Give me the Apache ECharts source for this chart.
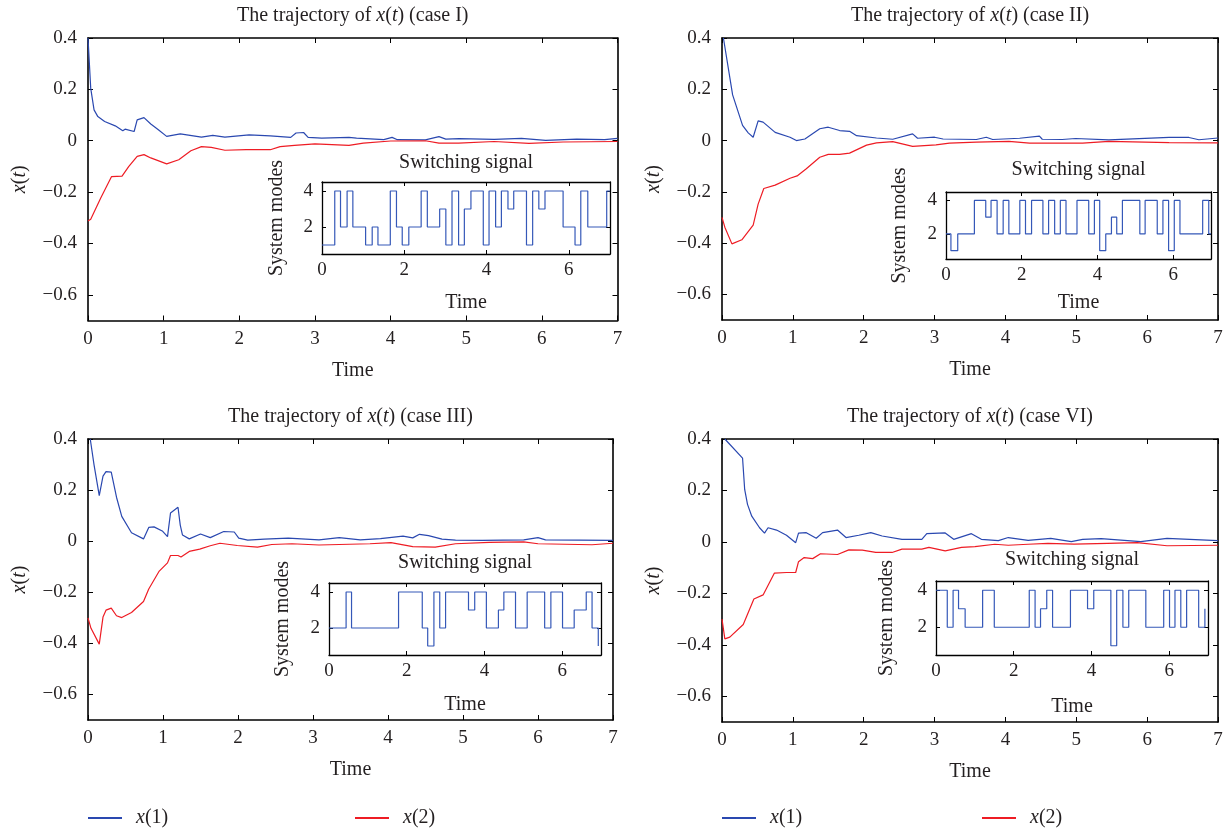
<!DOCTYPE html>
<html><head><meta charset="utf-8">
<script src="https://cdn.jsdelivr.net/npm/echarts@6/dist/echarts.min.js"></script>
<style>html,body{margin:0;padding:0;background:#fff}#c{width:1232px;height:834px}</style>
</head><body><div id="c"></div>
<script>
// ---------- DATA ----------
const caseNames = ['I', 'II', 'III', 'VI'];
const xTicks = [0, 1, 2, 3, 4, 5, 6, 7];
const yTicks = [-0.6, -0.4, -0.2, 0, 0.2, 0.4];
const insetXTicks = [0, 2, 4, 6];
const insetYTicks = [2, 4];

// case I
const c1x1T = [0,0.036,0.08,0.13,0.22,0.36,0.46,0.49,0.61,0.65,0.74,0.83,0.93,1.04,1.22,1.5,1.65,1.81,2.13,2.41,2.68,2.75,2.85,2.91,3.09,3.45,3.55,3.91,4.02,4.09,4.46,4.64,4.73,4.91,5.37,5.73,6.05,6.46,6.83,7];
const c1x1V = [0.40,0.204,0.12,0.094,0.075,0.058,0.039,0.045,0.036,0.081,0.09,0.065,0.043,0.017,0.027,0.014,0.021,0.014,0.023,0.019,0.013,0.03,0.032,0.013,0.010,0.013,0.010,0.004,0.013,0.004,0.003,0.016,0.006,0.008,0.005,0.009,0.001,0.006,0.004,0.009];
const c1x2T = [0,0.036,0.17,0.31,0.45,0.54,0.65,0.74,0.83,1.04,1.2,1.36,1.5,1.63,1.81,2.09,2.41,2.54,2.73,3.0,3.45,3.64,4.0,4.46,4.64,4.9,5.37,5.83,6.28,7];
const c1x2V = [-0.313,-0.306,-0.222,-0.14,-0.138,-0.1,-0.061,-0.054,-0.067,-0.09,-0.074,-0.039,-0.023,-0.026,-0.037,-0.035,-0.035,-0.023,-0.018,-0.012,-0.018,-0.009,-0.001,0,-0.009,-0.009,-0.003,-0.01,-0.005,-0.003];
const c1SwT = [0,0.31,0.45,0.61,0.75,1.06,1.22,1.36,1.66,1.81,1.95,2.11,2.41,2.56,2.86,3.01,3.16,3.32,3.46,3.62,3.92,4.06,4.22,4.36,4.52,4.66,4.97,5.12,5.27,5.42,5.86,6.15,6.29,6.46,6.92,7];
const c1SwM = [1,4,2,4,2,1,2,1,4,2,1,2,4,2,3,1,4,1,3,4,1,4,2,4,3,4,1,4,3,4,2,1,4,2,4,4];

// case II
const c2x1T = [0.02,0.15,0.29,0.37,0.44,0.51,0.58,0.75,0.96,1.05,1.17,1.38,1.5,1.66,1.8,1.9,2.18,2.41,2.69,2.76,3.0,3.12,3.59,3.73,3.82,4.2,4.48,4.52,4.8,4.99,5.46,6.31,6.59,6.73,7];
const c2x1V = [0.40,0.178,0.059,0.03,0.013,0.077,0.072,0.032,0.013,0.0,0.006,0.046,0.052,0.039,0.036,0.019,0.01,0.005,0.026,0.009,0.013,0.006,0.004,0.013,0.004,0.009,0.017,0.005,0.004,0.008,0.003,0.012,0.012,0.003,0.01];
const c2x2T = [0,0.04,0.14,0.28,0.44,0.51,0.59,0.75,0.96,1.06,1.19,1.38,1.5,1.66,1.8,2.04,2.18,2.41,2.69,3.02,3.21,3.59,4.05,4.34,5.09,5.46,6.31,7];
const c2x2V = [-0.3,-0.338,-0.403,-0.387,-0.33,-0.248,-0.187,-0.174,-0.147,-0.138,-0.11,-0.065,-0.054,-0.054,-0.049,-0.018,-0.009,-0.004,-0.023,-0.017,-0.01,-0.006,-0.003,-0.01,-0.01,-0.003,-0.008,-0.009];
const c2SwT = [0,0.13,0.31,0.75,1.05,1.19,1.35,1.51,1.66,1.95,2.1,2.26,2.56,2.71,2.87,3.02,3.17,3.46,3.77,3.92,4.06,4.22,4.37,4.51,4.66,5.12,5.26,5.58,5.73,5.88,6.03,6.18,6.78,6.94,7];
const c2SwM = [2,1,2,4,3,4,2,4,2,4,2,4,2,4,2,4,2,4,2,4,1,2,3,2,4,2,4,2,4,1,4,2,4,2,2];

// case III
const c3x1T = [0.03,0.08,0.15,0.2,0.24,0.31,0.38,0.45,0.58,0.74,0.81,0.88,0.99,1.06,1.1,1.2,1.23,1.26,1.35,1.5,1.63,1.81,1.95,2.01,2.13,2.35,2.67,3.08,3.35,3.63,3.9,4.2,4.33,4.42,4.54,4.72,4.9,5.26,5.81,6.0,6.1,7];
const c3x1V = [0.4,0.3,0.178,0.255,0.272,0.27,0.172,0.097,0.033,0.009,0.054,0.056,0.04,0.018,0.11,0.133,0.063,0.024,0.009,0.028,0.014,0.038,0.036,0.012,0.004,0.008,0.012,0.005,0.014,0.005,0.01,0.02,0.013,0.027,0.022,0.008,0.004,0.003,0.005,0.014,0.005,0.003];
const c3x2T = [0,0.04,0.15,0.2,0.24,0.31,0.38,0.45,0.58,0.74,0.81,0.95,1.06,1.1,1.2,1.24,1.35,1.49,1.63,1.76,1.99,2.26,2.45,2.72,3.08,3.76,4.04,4.33,4.63,4.9,5.35,5.81,6.0,6.72,7];
const c3x2V = [-0.3,-0.341,-0.403,-0.297,-0.27,-0.262,-0.292,-0.299,-0.279,-0.236,-0.187,-0.117,-0.085,-0.056,-0.056,-0.062,-0.04,-0.031,-0.018,-0.008,-0.017,-0.023,-0.013,-0.01,-0.015,-0.01,-0.006,-0.021,-0.023,-0.01,-0.005,-0.003,-0.01,-0.014,-0.008];
const c3SwT = [0,0.44,0.58,1.79,2.40,2.54,2.70,2.85,3.0,3.59,3.75,4.05,4.36,4.50,4.80,5.10,5.55,5.71,6.01,6.31,6.62,6.77,6.93];
const c3SwM = [2,4,2,4,2,1,4,2,4,3,4,2,3,4,2,4,2,4,2,3,4,2,1];

// case VI
const c4x1T = [0.04,0.29,0.32,0.36,0.42,0.53,0.6,0.65,0.77,0.91,1.04,1.08,1.19,1.33,1.42,1.63,1.75,1.93,2.1,2.26,2.54,2.82,2.89,3.15,3.27,3.52,3.66,3.9,4.04,4.32,4.64,4.93,5.09,5.35,5.91,6.28,7];
const c4x1V = [0.4,0.326,0.204,0.146,0.1,0.055,0.034,0.055,0.046,0.026,-0.003,0.034,0.036,0.014,0.036,0.046,0.017,0.026,0.036,0.023,0.01,0.01,0.032,0.035,0.01,0.032,0.01,0.005,0.017,0.006,0.014,0.001,0.01,0.013,0.001,0.014,0.005];
const c4x2T = [0,0.04,0.11,0.3,0.45,0.58,0.74,0.91,1.04,1.08,1.16,1.28,1.39,1.63,1.79,1.98,2.17,2.4,2.54,2.82,2.92,3.15,3.38,3.57,3.85,4.04,4.32,4.6,4.97,5.44,5.86,6.28,7];
const c4x2V = [-0.3,-0.377,-0.37,-0.321,-0.222,-0.206,-0.121,-0.119,-0.119,-0.077,-0.061,-0.065,-0.046,-0.049,-0.031,-0.032,-0.041,-0.041,-0.028,-0.028,-0.021,-0.035,-0.021,-0.018,-0.009,-0.013,-0.009,-0.006,-0.009,-0.006,-0.003,-0.015,-0.013];
const c4SwT = [0,0.29,0.44,0.58,0.75,1.20,1.50,2.40,2.55,2.69,2.85,3.0,3.46,3.90,4.06,4.50,4.65,4.81,4.96,5.40,5.86,6.01,6.15,6.30,6.45,6.76,6.92];
const c4SwM = [4,2,4,3,2,4,2,4,2,3,4,2,4,3,4,1,4,2,4,2,4,2,4,2,4,2,3];

// ---------- LAYOUT ----------
const FONT = '"Liberation Serif","DejaVu Serif",serif';
const TXT = '#231f20';
const BLUE = '#2a48b0';
const RED = '#ee1c24';
const FS_T = 20;   // titles / names
const FS_L = 19;   // tick labels
const panels = [
  {x1T:c1x1T,x1V:c1x1V,x2T:c1x2T,x2V:c1x2V,swT:c1SwT,swM:c1SwM,
   grid:{left:88,top:38,width:529.5,height:282.5}, inset:{left:322,top:182,width:288,height:72},
   ig:{title:9,ylab:35,xlab:39}},
  {x1T:c2x1T,x1V:c2x1V,x2T:c2x2T,x2V:c2x2V,swT:c2SwT,swM:c2SwM,
   grid:{left:722,top:38,width:496,height:282}, inset:{left:946,top:192,width:265,height:67},
   ig:{title:12,ylab:36,xlab:34}},
  {x1T:c3x1T,x1V:c3x1V,x2T:c3x2T,x2V:c3x2V,swT:c3SwT,swM:c3SwM,
   grid:{left:88,top:439,width:525,height:281}, inset:{left:329,top:583,width:272,height:72},
   ig:{title:10,ylab:36,xlab:40}},
  {x1T:c4x1T,x1V:c4x1V,x2T:c4x2T,x2V:c4x2V,swT:c4SwT,swM:c4SwM,
   grid:{left:722,top:439,width:496,height:283}, inset:{left:936,top:581,width:272,height:74},
   ig:{title:11,ylab:39,xlab:42}}
];

const zip = (a, b) => a.map((t, i) => [t, b[i]]);
const fmtY = v => v === 0 ? '0' : (v < 0 ? '\u2212' : '') + Math.abs(v).toFixed(1);
const richI = (size) => ({ i: { fontStyle: 'italic', fontFamily: FONT, fontSize: size, color: TXT } });

const grids = [], xAxes = [], yAxes = [], series = [];
const axLine = { show: true, onZero: false, lineStyle: { color: '#000', width: 1.6 } };
const axLineI = { show: true, onZero: false, lineStyle: { color: '#000', width: 1.3 } };

function addGrid(g) { grids.push(Object.assign({ outerBoundsMode: 'none', containLabel: false }, g)); return grids.length - 1; }

panels.forEach((p, k) => {
  const gi = addGrid(p.grid);
  const xb = xAxes.length;
  xAxes.push({
    type: 'value', gridIndex: gi, position: 'bottom', min: 0, max: 7,
    axisLine: axLine, splitLine: { show: false },
    axisTick: { show: true, inside: true, length: 5, customValues: xTicks, lineStyle: { color: '#000', width: 1 } },
    axisLabel: { show: true, customValues: xTicks, margin: 9, fontFamily: FONT, fontSize: FS_L, color: TXT },
    name: 'Time', nameLocation: 'middle', nameGap: 40, nameTextStyle: { fontFamily: FONT, fontSize: FS_T, color: TXT }
  });
  xAxes.push({
    type: 'value', gridIndex: gi, position: 'top', min: 0, max: 7,
    axisLine: axLine, splitLine: { show: false },
    axisTick: { show: true, inside: true, length: 5, customValues: xTicks, lineStyle: { color: '#000', width: 1 } },
    axisLabel: { show: false },
    name: 'The trajectory of {i|x}({i|t}) (case ' + caseNames[k] + ')', nameLocation: 'middle', nameGap: 12,
    nameTextStyle: { fontFamily: FONT, fontSize: FS_T, color: TXT, rich: richI(FS_T) }
  });
  const yl = yAxes.length;
  yAxes.push({
    type: 'value', gridIndex: gi, position: 'left', min: -0.7, max: 0.4,
    axisLine: axLine, splitLine: { show: false },
    axisTick: { show: true, inside: true, length: 5, customValues: yTicks, lineStyle: { color: '#000', width: 1 } },
    axisLabel: { show: true, customValues: yTicks, margin: 11, formatter: fmtY, fontFamily: FONT, fontSize: FS_L, color: TXT },
    name: '{i|x}({i|t})', nameLocation: 'middle', nameGap: 58,
    nameTextStyle: { fontFamily: FONT, fontSize: FS_T, color: TXT, rich: richI(FS_T) }
  });
  yAxes.push({
    type: 'value', gridIndex: gi, position: 'right', min: -0.7, max: 0.4,
    axisLine: axLine, splitLine: { show: false },
    axisTick: { show: true, inside: true, length: 5, customValues: yTicks, lineStyle: { color: '#000', width: 1 } },
    axisLabel: { show: false }
  });
  series.push({ name: 'x(1)', type: 'line', xAxisIndex: xb, yAxisIndex: yl, data: zip(p.x1T, p.x1V),
    showSymbol: false, symbol: 'none', lineStyle: { color: BLUE, width: 1.2 }, itemStyle: { color: BLUE }, z: 3 });
  series.push({ name: 'x(2)', type: 'line', xAxisIndex: xb, yAxisIndex: yl, data: zip(p.x2T, p.x2V),
    showSymbol: false, symbol: 'none', lineStyle: { color: RED, width: 1.2 }, itemStyle: { color: RED }, z: 3 });

  const ii = addGrid(Object.assign({ show: true, backgroundColor: '#fff', borderWidth: 0, z: 5 }, p.inset));
  const ixb = xAxes.length;
  xAxes.push({
    type: 'value', gridIndex: ii, position: 'bottom', min: 0, max: 7, z: 6,
    axisLine: axLineI, splitLine: { show: false },
    axisTick: { show: true, inside: true, length: 4, customValues: insetXTicks, lineStyle: { color: '#000', width: 1 } },
    axisLabel: { show: true, customValues: insetXTicks, margin: 7, fontFamily: FONT, fontSize: FS_L, color: TXT },
    name: 'Time', nameLocation: 'middle', nameGap: p.ig.xlab, nameTextStyle: { fontFamily: FONT, fontSize: FS_T, color: TXT }
  });
  xAxes.push({
    type: 'value', gridIndex: ii, position: 'top', min: 0, max: 7, z: 6,
    axisLine: axLineI, splitLine: { show: false },
    axisTick: { show: true, inside: true, length: 4, customValues: insetXTicks, lineStyle: { color: '#000', width: 1 } },
    axisLabel: { show: false },
    name: 'Switching signal', nameLocation: 'middle', nameGap: p.ig.title,
    nameTextStyle: { fontFamily: FONT, fontSize: FS_T, color: TXT }
  });
  const iyl = yAxes.length;
  yAxes.push({
    type: 'value', gridIndex: ii, position: 'left', min: 0.5, max: 4.5, z: 6,
    axisLine: axLineI, splitLine: { show: false },
    axisTick: { show: true, inside: true, length: 4, customValues: insetYTicks, lineStyle: { color: '#000', width: 1 } },
    axisLabel: { show: true, customValues: insetYTicks, margin: 9, fontFamily: FONT, fontSize: FS_L, color: TXT },
    name: 'System modes', nameLocation: 'middle', nameGap: p.ig.ylab,
    nameTextStyle: { fontFamily: FONT, fontSize: FS_T, color: TXT }
  });
  yAxes.push({
    type: 'value', gridIndex: ii, position: 'right', min: 0.5, max: 4.5, z: 6,
    axisLine: axLineI, splitLine: { show: false },
    axisTick: { show: true, inside: true, length: 4, customValues: insetYTicks, lineStyle: { color: '#000', width: 1 } },
    axisLabel: { show: false }
  });
  series.push({ name: 'mode' + k, type: 'line', step: 'end', xAxisIndex: ixb, yAxisIndex: iyl, data: zip(p.swT, p.swM),
    showSymbol: false, symbol: 'none', lineStyle: { color: '#3558b8', width: 1.2 }, z: 7 });
});

const legendBase = (name, left) => ({
  left: left, top: 808, padding: 0, icon: 'rect', itemWidth: 34, itemHeight: 2, data: [name], selectedMode: false,
  formatter: n => '{i|x}' + n.slice(1),
  textStyle: { fontFamily: FONT, fontSize: FS_T, color: TXT, padding: [0, 0, 0, 9], rich: richI(FS_T) }
});

const option = {
  animation: false,
  backgroundColor: '#fff',
  grid: grids, xAxis: xAxes, yAxis: yAxes, series: series,
  legend: [legendBase('x(1)', 88), legendBase('x(2)', 355), legendBase('x(1)', 722), legendBase('x(2)', 982)]
};
const chart = echarts.init(document.getElementById('c'), null, { renderer: 'canvas' });
chart.setOption(option);
</script></body></html>
